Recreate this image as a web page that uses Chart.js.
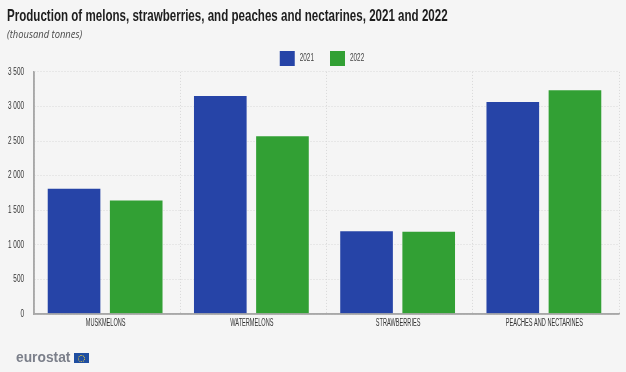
<!DOCTYPE html>
<html>
<head>
<meta charset="utf-8">
<style>
html,body{margin:0;padding:0;background:#f5f5f5;width:626px;height:372px;overflow:hidden}
#wrap{position:relative;width:626px;height:372px}
canvas{position:absolute;left:0;top:0}
#logo{position:absolute;left:16px;top:347px;font:bold 15px "Liberation Sans",sans-serif;color:#7b7f8a;line-height:20px;transform:scaleX(.92);transform-origin:left center}
#flag{position:absolute;left:74px;top:353px;width:15px;height:10px;background:#1f4ea1}
#flag i{position:absolute;left:4px;top:2px;width:5px;height:5px;border:1px dotted #e8c93c;border-radius:50%}
</style>
</head>
<body>
<div id="wrap">
<canvas id="c" width="626" height="372"></canvas>
<div id="logo">eurostat</div>
<div id="flag"><i></i></div>
</div>
<script src="https://cdn.jsdelivr.net/npm/chart.js@4/dist/chart.umd.min.js"></script>
<script>
const categories = ["MUSKMELONS", "WATERMELONS", "STRAWBERRIES", "PEACHES AND NECTARINES"];
const values2021 = [1810, 3150, 1195, 3065];
const values2022 = [1640, 2570, 1190, 3235];
const titleText = "Production of melons, strawberries, and peaches and nectarines, 2021 and 2022";
const subtitleText = "(thousand tonnes)";
const sans = '"Liberation Sans",sans-serif';

const canvas = document.getElementById("c");
const ctx = canvas.getContext("2d");

// No condensed font is installed: narrow the text horizontally when it is painted.
const paintText = ctx.fillText.bind(ctx);
ctx.fillText = function (t, x, y, m) {
  const s = String(t);
  const k = s === titleText ? 0.72 : s === subtitleText ? 0.94 : /[A-Z]{2}/.test(s) ? 0.56 : 0.64;
  ctx.save();
  ctx.translate(x, y);
  ctx.scale(k, 1);
  if (m === undefined) paintText(s, 0, 0); else paintText(s, 0, 0, m);
  ctx.restore();
};

new Chart(ctx, {
  type: "bar",
  data: {
    labels: categories,
    datasets: [
      {label: "2021", data: values2021, backgroundColor: "#2644a7"},
      {label: "2022", data: values2022, backgroundColor: "#32a034"}
    ]
  },
  options: {
    responsive: false,
    animation: false,
    layout: {padding: {left: 7, right: 7, top: 6, bottom: 40}},
    datasets: {bar: {categoryPercentage: 0.85, barPercentage: 0.847}},
    plugins: {
      title: {display: true, text: titleText, align: "start", color: "#1d1d1d",
        font: {family: sans, size: 17, weight: "bold"}, padding: {top: 0, bottom: 3}},
      subtitle: {display: true, text: subtitleText, align: "start", color: "#4a4a4a",
        font: {family: '"Open Sans",sans-serif', size: 10, style: "italic"}, padding: {top: 0, bottom: 0}},
      legend: {display: true, position: "top", align: "center",
        labels: {boxWidth: 15, boxHeight: 15, padding: 8, color: "#444", font: {family: sans, size: 10}}},
      tooltip: {enabled: false}
    },
    scales: {
      x: {
        grid: {display: true, drawTicks: false, color: "#d8d8d8", lineWidth: 1},
        border: {display: true, color: "#a8a8a8", width: 1.5, dash: [1, 2]},
        ticks: {color: "#333", font: {family: sans, size: 10}, padding: 3, maxRotation: 0, labelOffset: -1.5}
      },
      y: {
        min: 0, max: 3500,
        afterFit(s) { s.width = 27; },
        grid: {display: true, drawTicks: false, color: "#d8d8d8", lineWidth: 1},
        border: {display: true, color: "#a8a8a8", width: 1.5, dash: [1, 2]},
        ticks: {stepSize: 500, color: "#333", font: {family: sans, size: 10}, padding: 10,
          callback: v => String(v).replace(/\B(?=(\d{3})+$)/, " ")}
      }
    }
  },
  plugins: [{
    id: "tweaks",
    beforeInit(ch) {
      const lg = ch.legend;
      const fit = lg.fit.bind(lg), draw = lg.draw.bind(lg);
      lg.fit = function () { fit(); lg.height -= 2.5; };
      lg.draw = function (a) { ch.ctx.save(); ch.ctx.translate(13, 1.5); draw(a); ch.ctx.restore(); };
    },
    beforeDraw(ch) {
      const c = ch.ctx; c.save(); c.fillStyle = "#f5f5f5"; c.fillRect(0, 0, ch.width, ch.height); c.restore();
    },
    beforeDatasetsDraw(ch) { ch.ctx.save(); ch.ctx.translate(-2, 0); },
    afterDatasetsDraw(ch) {
      const {ctx: c, chartArea: a} = ch;
      c.restore();
      c.save(); c.strokeStyle = "#a8a8a8"; c.lineWidth = 1.5; c.setLineDash([]);
      c.beginPath(); c.moveTo(a.left, a.top); c.lineTo(a.left, a.bottom); c.lineTo(a.right, a.bottom); c.stroke();
      c.restore();
    }
  }]
});
</script>
</body>
</html>
